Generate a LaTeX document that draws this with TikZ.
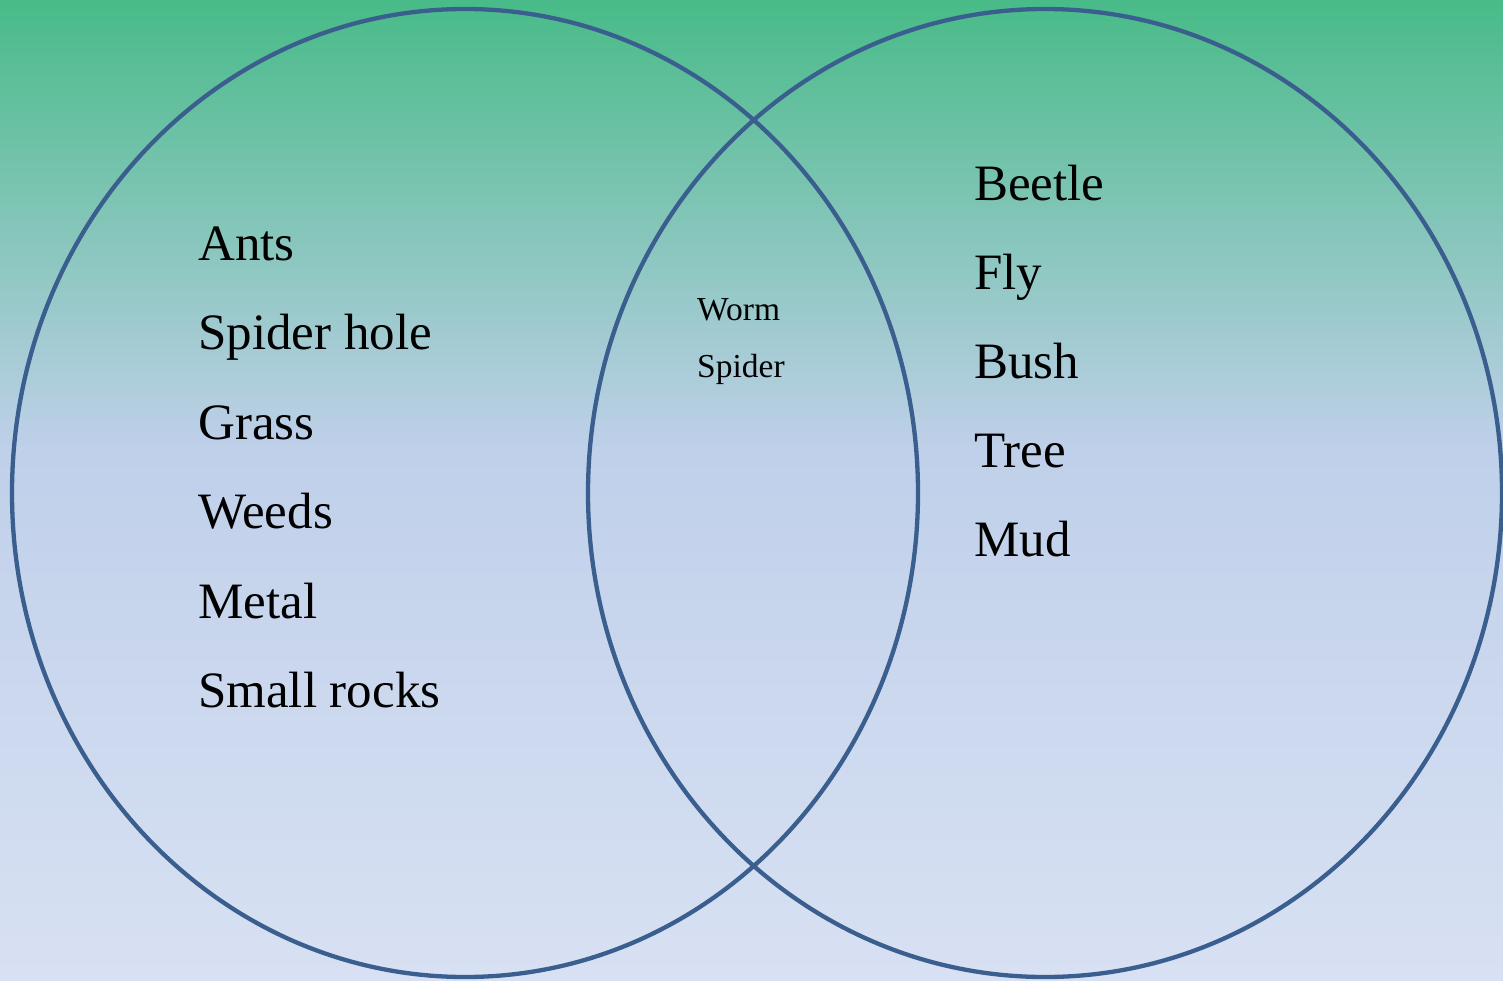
\documentclass[tikz,border=0pt]{standalone}
\usepackage{fontspec}
\setmainfont{Liberation Serif}
\definecolor{bgtop}{HTML}{48BB88}
\definecolor{bgmid}{HTML}{C0D0EA}
\definecolor{bgbot}{HTML}{D8E1F3}
\definecolor{ring}{HTML}{3A5E8E}
\pgfdeclareverticalshading{bgshade}{100bp}{color(0bp)=(bgbot); color(25bp)=(bgbot); color(52bp)=(bgmid); color(75bp)=(bgtop); color(100bp)=(bgtop)}
\tikzset{
  ringline/.style={draw=ring, line width=4.3pt},
  bigitem/.style={anchor=base west, inner sep=0pt, font=\fontsize{51}{51}\selectfont},
  smallitem/.style={anchor=base west, inner sep=0pt, font=\fontsize{33.5}{33.5}\selectfont}
}
\begin{document}
\begin{tikzpicture}[x=1pt,y=-1pt]
\useasboundingbox (0,0) rectangle (1503,980);
\shade[shading=bgshade] (0,0) rectangle (1503,980);
\begin{scope}
\clip (0,0) rectangle (1503,980);
\draw[ringline] (465,493) ellipse [x radius=453, y radius=484];
\draw[ringline] (1045,493) ellipse [x radius=457, y radius=484];
\end{scope}
\node[bigitem] (ants) at (198,260) {Ants};
\node[bigitem] (spiderhole) at (198,349.5) {Spider hole};
\node[bigitem] (grass) at (198,439) {Grass};
\node[bigitem] (weeds) at (198,528.5) {Weeds};
\node[bigitem] (metal) at (198,618) {Metal};
\node[bigitem] (rocks) at (198,707.5) {Small rocks};
\node[smallitem] (worm) at (697,320) {Worm};
\node[smallitem] (spider) at (697,377) {Spider};
\node[bigitem] (beetle) at (974,200) {Beetle};
\node[bigitem] (fly) at (974,289) {Fly};
\node[bigitem] (bush) at (974,378) {Bush};
\node[bigitem] (tree) at (974,467) {Tree};
\node[bigitem] (mud) at (974,556) {Mud};
\end{tikzpicture}
\end{document}
